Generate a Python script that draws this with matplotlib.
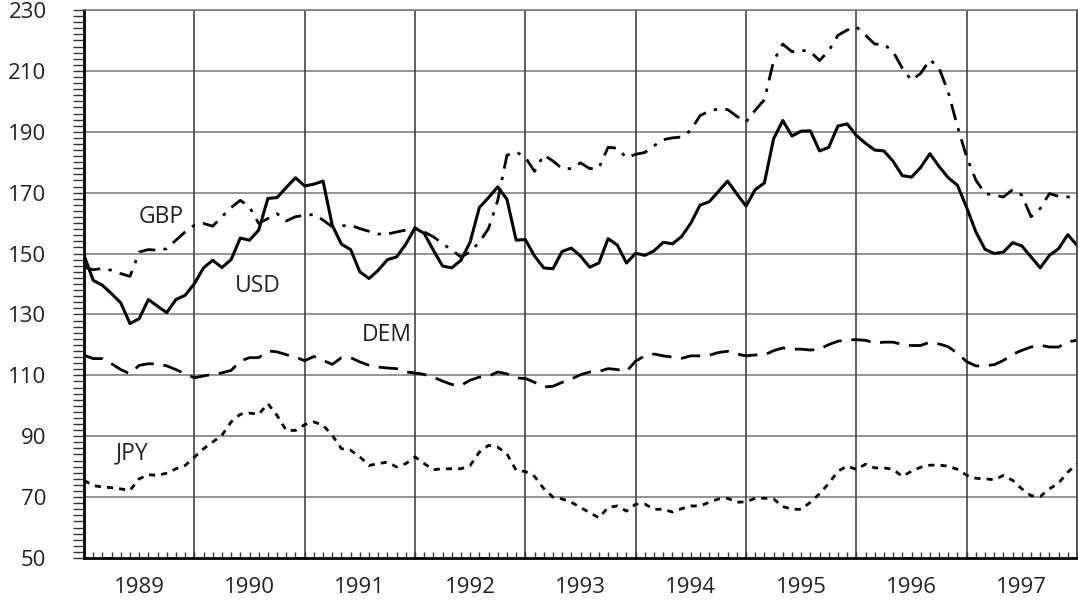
import numpy as np
import matplotlib
matplotlib.use("Agg")
import matplotlib.pyplot as plt
from matplotlib.ticker import MultipleLocator, FixedLocator

# monthly index values, Jan 1989 .. Jan 1998
usd = [149.5, 141.2, 139.6, 136.8, 133.8, 127.0, 128.6, 134.9, 132.7, 130.6, 134.9, 136.3,
       140.1, 145.3, 147.8, 145.4, 148.0, 155.1, 154.4, 157.7, 168.1, 168.4, 171.7, 174.9,
       172.2, 172.8, 173.8, 159.3, 153.1, 151.3, 144.0, 141.8, 144.5, 148.0, 148.9, 153.1,
       158.4, 156.6, 151.1, 145.9, 145.3, 147.8, 153.8, 165.1, 168.4, 171.9, 167.8, 154.4,
       154.6, 149.2, 145.3, 145.0, 150.7, 151.8, 149.2, 145.5, 146.9, 154.9, 152.8, 146.9,
       150.1, 149.4, 150.9, 153.7, 153.2, 155.6, 160.0, 165.9, 167.0, 170.4, 173.8, 169.6,
       165.6, 171.0, 173.2, 187.7, 193.7, 188.6, 190.2, 190.3, 183.7, 184.9, 191.9, 192.6,
       188.8, 186.2, 184.0, 183.7, 180.3, 175.6, 175.1, 178.3, 182.8, 178.6, 174.9, 172.4,
       165.1, 157.1, 151.4, 150.0, 150.5, 153.6, 152.5, 148.9, 145.3, 149.4, 151.6, 156.2,
       152.7]
gbp = [145.5, 144.7, 145.1, 144.5, 143.4, 142.5, 150.5, 151.3, 151.1, 151.6, 154.4, 157.1,
       159.3, 159.9, 159.0, 162.1, 165.1, 167.5, 165.3, 159.9, 161.5, 163.1, 160.7, 162.1,
       162.6, 162.8, 161.0, 158.8, 159.1, 159.3, 158.2, 157.3, 156.4, 156.4, 157.1, 157.7,
       158.4, 157.1, 155.5, 153.3, 151.1, 148.9, 150.5, 153.8, 158.2, 167.5, 182.3, 183.4,
       181.6, 177.0, 182.4, 180.4, 177.9, 177.9, 179.8, 177.9, 178.1, 184.9, 184.6, 181.5,
       182.6, 183.2, 185.4, 187.4, 188.0, 188.3, 190.5, 195.3, 196.8, 197.5, 197.3, 195.1,
       193.2, 197.1, 200.5, 213.2, 218.8, 216.3, 216.8, 216.3, 213.4, 216.6, 221.7, 223.4,
       224.5, 221.7, 218.8, 218.8, 216.3, 210.9, 206.9, 209.2, 213.7, 210.9, 203.0, 191.7,
       181.7, 174.1, 169.7, 169.2, 168.6, 171.0, 169.2, 162.1, 164.8, 169.7, 168.8, 168.6,
       168.6]
dem = [116.6, 115.5, 115.5, 113.8, 111.9, 110.5, 113.3, 113.8, 113.8, 113.1, 111.9, 110.5,
       109.2, 109.8, 110.3, 110.8, 111.6, 114.7, 115.8, 115.8, 118.0, 117.7, 116.8, 116.0,
       114.8, 116.2, 114.9, 113.6, 115.8, 115.8, 114.4, 113.3, 112.7, 112.4, 112.2, 111.1,
       110.8, 110.3, 109.4, 108.1, 107.0, 106.7, 108.4, 109.4, 109.7, 111.1, 110.5, 109.1,
       109.0, 107.7, 106.2, 106.4, 107.7, 108.8, 110.2, 111.1, 111.3, 112.2, 111.9, 111.3,
       114.7, 116.4, 117.0, 116.4, 116.0, 115.6, 116.4, 116.4, 116.6, 117.5, 117.9, 117.0,
       116.4, 116.7, 116.7, 118.1, 119.0, 118.6, 118.6, 118.3, 118.6, 120.1, 121.2, 121.7,
       121.7, 121.5, 120.6, 120.9, 120.9, 120.1, 119.8, 119.8, 120.9, 120.3, 119.4, 117.2,
       114.5, 113.1, 113.1, 113.5, 114.9, 116.9, 118.2, 119.3, 119.9, 119.3, 119.3, 121.0,
       121.5]
jpy = [75.5, 73.8, 73.3, 73.1, 72.7, 72.2, 76.0, 77.4, 77.1, 77.9, 79.3, 80.4,
       83.1, 85.9, 88.1, 90.3, 94.7, 97.2, 97.6, 97.2, 100.7, 96.8, 91.9, 91.9,
       93.8, 94.7, 93.6, 90.3, 85.9, 85.4, 83.2, 80.4, 81.0, 81.5, 79.9, 81.0,
       83.2, 81.0, 79.0, 79.3, 79.3, 79.3, 80.4, 84.8, 87.0, 86.4, 84.2, 78.8,
       78.4, 76.8, 72.8, 70.0, 69.4, 68.3, 66.6, 64.9, 63.2, 66.6, 67.1, 65.4,
       67.7, 67.7, 66.0, 66.0, 65.1, 66.2, 67.1, 67.1, 68.3, 69.4, 69.6, 68.3,
       68.5, 69.6, 69.6, 69.4, 66.9, 66.0, 66.0, 68.3, 71.1, 74.5, 78.5, 80.2,
       79.1, 80.8, 79.6, 79.6, 79.1, 76.8, 78.5, 79.8, 80.5, 80.5, 80.2, 79.1,
       77.2, 76.2, 76.0, 75.7, 77.1, 75.5, 72.7, 70.5, 70.2, 72.7, 74.6, 78.2,
       80.9]
years = ["1989", "1990", "1991", "1992", "1993", "1994", "1995", "1996", "1997"]
y_ticks = list(range(50, 231, 20))

FONT = ["Open Sans", "DejaVu Sans"]
plt.rcParams["font.family"] = FONT

fig = plt.figure(figsize=(10.78, 6.04), dpi=100)
ax = fig.add_axes([84 / 1078, 46 / 604, 993 / 1078, 548 / 604])

months = np.arange(len(usd))
ax.plot(months, usd, color="black", lw=2.2, ls="-")
ax.plot(months, gbp, color="black", lw=2.0, ls=(0, (6, 3, 1.2, 3)))
ax.plot(months, dem, color="black", lw=2.0, ls=(0, (7, 3.5)))
ax.plot(months, jpy, color="black", lw=2.0, ls=(0, (2.2, 2.2)))

ax.set_xlim(0, 12 * len(years))
ax.set_ylim(y_ticks[0], y_ticks[-1])

# grid
for v in y_ticks[1:]:
    ax.axhline(v, color="#777777", lw=1.1, zorder=0)
for k in range(1, len(years) + 1):
    ax.axvline(12 * k, color="#444444", lw=1.2, zorder=0)

# y ticks
ax.yaxis.set_major_locator(FixedLocator(y_ticks))
ax.yaxis.set_minor_locator(MultipleLocator(2))
ax.tick_params(axis="y", which="both", direction="out", length=8, width=1, color="#333333")
ax.tick_params(axis="y", which="major", pad=19, labelsize=16, labelcolor="#222222")

# x ticks: year labels centred, monthly ticks inside
ax.xaxis.remove_overlapping_locs = False
ax.xaxis.set_major_locator(FixedLocator([12 * k + 6 for k in range(len(years))]))
ax.set_xticklabels(years)
ax.xaxis.set_minor_locator(MultipleLocator(1))
ax.tick_params(axis="x", which="major", length=0, pad=14, labelsize=16, labelcolor="#222222")
ax.tick_params(axis="x", which="minor", direction="in", length=4, width=1, color="#333333")

for s in ["left", "bottom"]:
    ax.spines[s].set_color("black")
    ax.spines[s].set_linewidth(2.0)
ax.spines["top"].set_color("#777777")
ax.spines["top"].set_linewidth(1.1)
ax.spines["right"].set_color("#444444")
ax.spines["right"].set_linewidth(1.2)

lab = dict(fontsize=16.5, color="#222222", ha="center", va="center")
ax.text(8.4, 162.1, "GBP", **lab)
ax.text(18.9, 139.2, "USD", **lab)
ax.text(32.9, 123.4, "DEM", **lab)
ax.text(5.2, 84.4, "JPY", **lab)

fig.savefig("out.png", dpi=100)
